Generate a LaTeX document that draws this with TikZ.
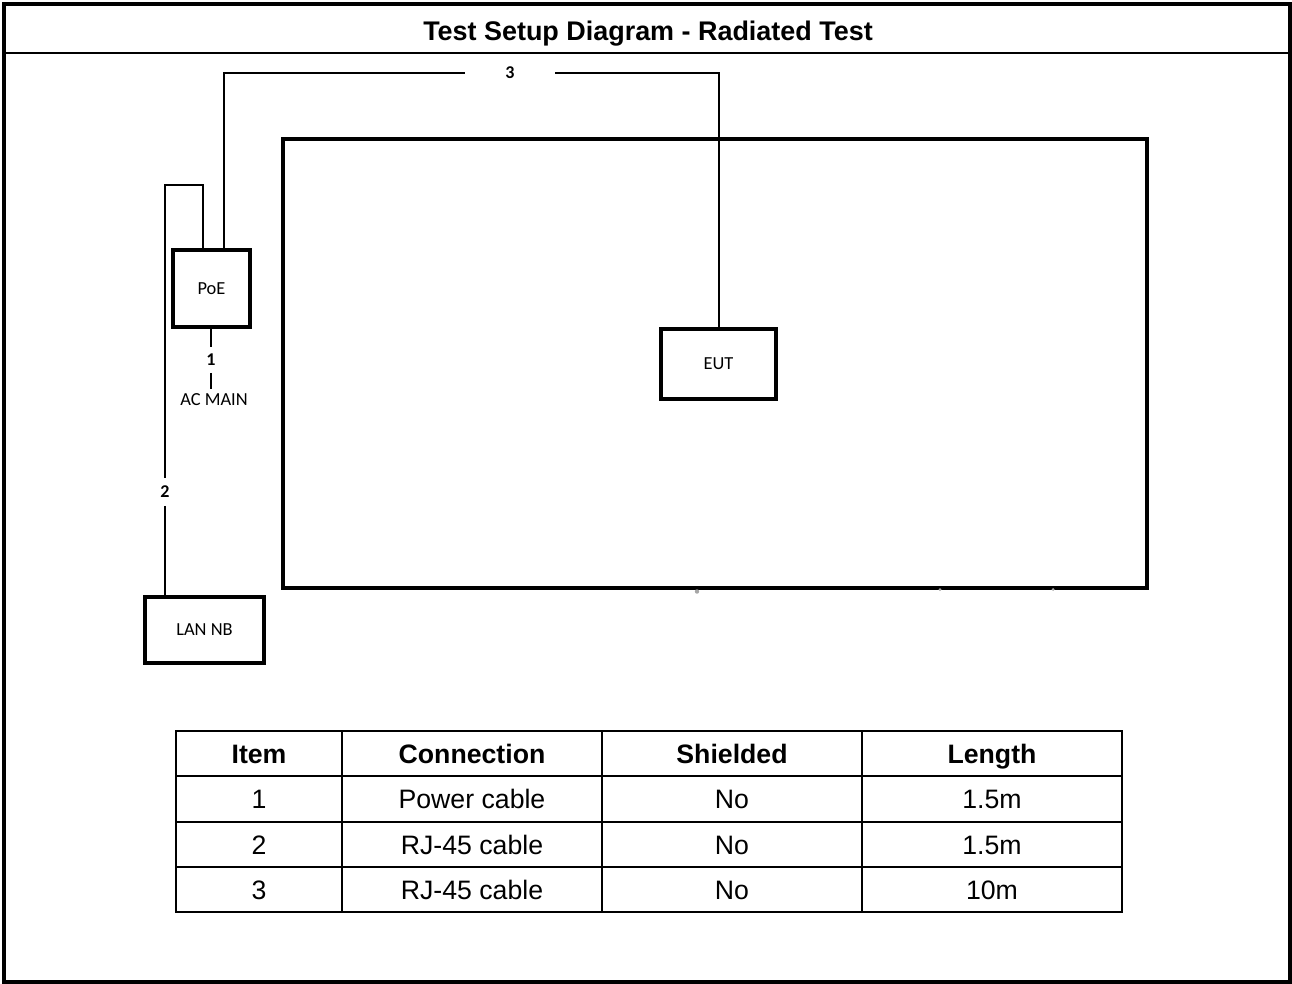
\documentclass[tikz,border=0pt]{standalone}
\usepackage{fontspec}
\setmainfont{Liberation Sans}
\newfontfamily\calib{Carlito}
\begin{document}
\begin{tikzpicture}[x=0.75pt,y=-0.75pt,
  frame/.style={line width=2.8pt},
  devbox/.style={draw,line width=2.7pt,inner sep=0pt,font=\calib\fontsize{13.8}{16}\selectfont},
  cable/.style={line width=1.7pt},
  clbl/.style={inner sep=0pt,font=\calib\bfseries\fontsize{13.5}{15}\selectfont},
  tbl/.style={line width=1.6pt},
  cell/.style={inner sep=0pt,anchor=base,font=\fontsize{20}{24}\selectfont},
  hcell/.style={inner sep=0pt,anchor=base,font=\bfseries\fontsize{20}{24}\selectfont}]
\useasboundingbox (0,0) rectangle (1292,983);
% outer frame and title
\draw[frame] (4,4) rectangle (1290,982);
\draw[line width=2pt] (4,53) -- (1290,53);
\node[inner sep=0pt,anchor=base,font=\bfseries\fontsize{20.2}{24}\selectfont] (title) at (648,40.5) {Test Setup Diagram - Radiated Test};
% table area (big rectangle)
\node[draw,line width=3.3pt,minimum width=864*0.75pt,minimum height=449*0.75pt,inner sep=0pt] (table) at (715,363.5) {};
\fill[gray!70] (697,591.5) circle (2.2);
\fill[gray!70] (940,589.5) circle (1.5);
\fill[gray!70] (1053,589.5) circle (1.5);
% devices
\node[devbox,minimum width=77*0.75pt,minimum height=77*0.75pt] (poe) at (211.5,288.5) {PoE};
\node[devbox,minimum width=115*0.75pt,minimum height=70*0.75pt] (eut) at (718.5,364) {EUT};
\node[devbox,minimum width=119*0.75pt,minimum height=66*0.75pt] (lan) at (204.5,630) {LAN NB};
% cable 3
\node[clbl,minimum width=90*0.75pt] (n3) at (510,73) {3};
\draw[cable] ([xshift=12.5*0.75pt]poe.north) |- (n3.west);
\draw[cable] (n3.east) -| ([xshift=0.5*0.75pt]eut.north);
% cable 2
\node[clbl,minimum height=27*0.75pt] (n2) at (165,492) {2};
\coordinate (k2) at (165,185);
\draw[cable] ([xshift=-8.5*0.75pt]poe.north) |- (k2) -- (n2.north);
\draw[cable] (n2.south) -- (lan.north -| n2.south);
% cable 1
\node[clbl,minimum height=25*0.75pt] (n1) at (211,360) {1};
\node[inner sep=0pt,font=\calib\fontsize{13.8}{16}\selectfont] (ac) at (214,400) {AC MAIN};
\draw[cable] (poe.south -| n1.north) -- (n1.north);
\draw[cable] (n1.south) -- (n1.south |- 0,389);
% data table
\draw[tbl] (176,731) rectangle (1122,912);
\foreach \x in {342,602,862} \draw[tbl] (\x,731) -- (\x,912);
\foreach \y in {776,822,867} \draw[tbl] (176,\y) -- (1122,\y);
\node[hcell] (h1) at (259,763.5) {Item};
\node[hcell] (h2) at (472,763.5) {Connection};
\node[hcell] (h3) at (732,763.5) {Shielded};
\node[hcell] (h4) at (992,763.5) {Length};
\node[cell] (a1) at (259,808.5) {1};
\node[cell] (a2) at (472,808.5) {Power cable};
\node[cell] (a3) at (732,808.5) {No};
\node[cell] (a4) at (992,808.5) {1.5m};
\node[cell] (b1) at (259,854.5) {2};
\node[cell] (b2) at (472,854.5) {RJ-45 cable};
\node[cell] (b3) at (732,854.5) {No};
\node[cell] (b4) at (992,854.5) {1.5m};
\node[cell] (c1) at (259,899.5) {3};
\node[cell] (c2) at (472,899.5) {RJ-45 cable};
\node[cell] (c3) at (732,899.5) {No};
\node[cell] (c4) at (992,899.5) {10m};
\end{tikzpicture}
\end{document}
